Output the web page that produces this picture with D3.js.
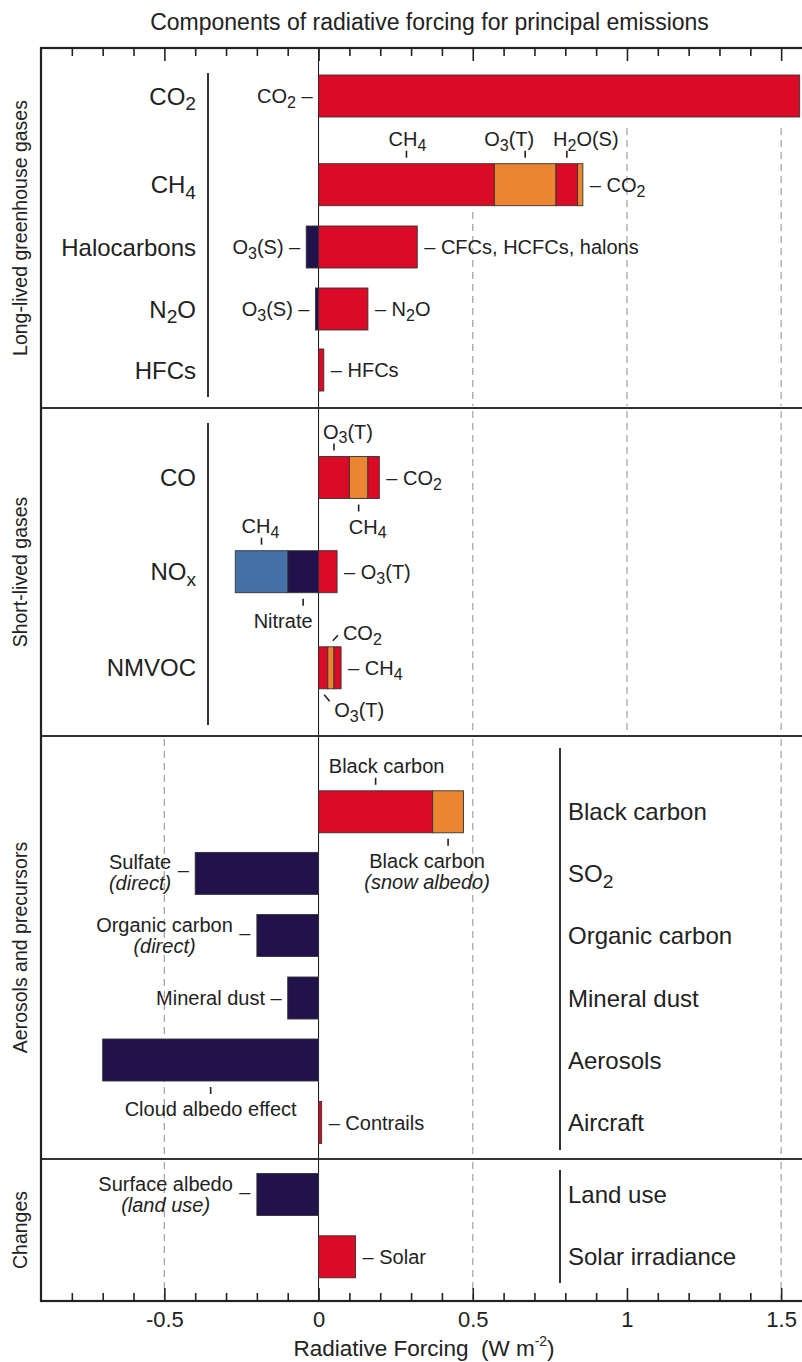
<!DOCTYPE html>
<html><head><meta charset="utf-8">
<script src="https://cdn.jsdelivr.net/npm/d3@7"></script>
<style>
body{margin:0;background:#fff}
svg{display:block;font-family:"Liberation Sans",Arial,Helvetica,sans-serif}
</style>
</head><body>
<svg id="chart" width="802" height="1362"></svg>
<script>
// ================= DATA =================
const title = "Components of radiative forcing for principal emissions";
const sections = ["Long-lived greenhouse gases","Short-lived gases","Aerosols and precursors","Changes"];
const emissions = ["CO2","CH4","Halocarbons","N2O","HFCs","CO","NOx","NMVOC",
  "Black carbon","SO2","Organic carbon","Mineral dust","Aerosols","Aircraft","Land use","Solar irradiance"];
const emissionSection = [0,0,0,0,0,1,1,1,2,2,2,2,2,2,3,3];
// components of each emission, listed from zero outward
const compEmission = ["CO2","CH4","CH4","CH4","CH4","Halocarbons","Halocarbons","N2O","N2O","HFCs",
  "CO","CO","CO","NOx","NOx","NOx","NMVOC","NMVOC","NMVOC",
  "Black carbon","Black carbon","SO2","Organic carbon","Mineral dust","Aerosols","Aircraft","Land use","Solar irradiance"];
const compName = ["CO2","CH4","O3(T)","H2O(S)","CO2","O3(S)","CFCs, HCFCs, halons","O3(S)","N2O","HFCs",
  "O3(T)","CH4","CO2","Nitrate","CH4","O3(T)","O3(T)","CO2","CH4",
  "Black carbon","Black carbon (snow albedo)","Sulfate (direct)","Organic carbon (direct)","Mineral dust",
  "Cloud albedo effect","Contrails","Surface albedo (land use)","Solar"];
const compValue = [1.56,0.57,0.20,0.07,0.017,-0.04,0.32,-0.01,0.16,0.017,
  0.10,0.06,0.037,-0.10,-0.17,0.06,0.03,0.02,0.023,
  0.37,0.10,-0.40,-0.20,-0.10,-0.70,0.01,-0.20,0.12];
// shade class: a = warming, b = warming (alternate), c = cooling, d = cooling (alternate)
const compShade = ["a","a","b","a","b","c","a","c","a","a",
  "a","b","a","c","d","a","a","b","a",
  "a","b","c","c","c","c","a","c","a"];
const xTickValues = [-0.5,0,0.5,1,1.5];
const xAxisTitle = ["Radiative Forcing\u00a0\u00a0(W m", "-2", ")"];

// ================= LAYOUT =================
const svg = d3.select("#chart");
const frame = {left:41, top:48, bottom:1301};
const x = d3.scaleLinear().domain([-0.9,1.6]).range([41, 41+2.5*308.4]);
const sectionBounds = [48,408,736,1159,1301];
const rowCenter = [96,184.7,247,309,370,477.5,571.7,667.8,811.8,873.4,935.5,998,1060,1122.5,1194.5,1256.8];
const y = d3.scaleOrdinal().domain(emissions).range(rowCenter);
const barH = 42;
const colour = d3.scaleOrdinal().domain(["a","b","c","d"]).range(["#DB0A26","#EC8532","#22124B","#4571A9"]);

// stack the components
const comps = compEmission.map((e,i)=>({i, e, name:compName[i], v:compValue[i], shade:compShade[i]}));
const posAcc = {}, negAcc = {};
comps.forEach(c=>{
  if (c.v >= 0){ const s = posAcc[c.e]||0; c.x0 = s; c.x1 = s + c.v; posAcc[c.e] = c.x1; }
  else { const s = negAcc[c.e]||0; c.x0 = s + c.v; c.x1 = s; negAcc[c.e] = c.x0; }
});

// rich text with chemical subscripts
function rich(sel, str){
  const segs = [];
  for (let k=0;k<str.length;k++){
    const ch = str[k], prev = str[k-1];
    let sub = /\d/.test(ch) && prev && /[A-Za-z]/.test(prev);
    if (ch==='x' && str.slice(k-2,k)==='NO') sub = true;
    const kind = sub ? 's' : 'n';
    if (segs.length && segs[segs.length-1].k===kind) segs[segs.length-1].t += ch;
    else segs.push({k:kind, t:ch});
  }
  let shifted = false;
  segs.forEach(s=>{
    const t = sel.append("tspan").text(s.t);
    if (s.k==='s'){ t.attr("font-size","0.8em").attr("dy","0.3em"); shifted = true; }
    else if (shifted){ t.attr("dy","-0.24em"); shifted = false; }
  });
  return sel;
}

// ---- dashed reference lines (behind everything) ----
const grid = [
  {v:0.5, y0:212, y1:406},{v:1, y0:128, y1:406},{v:1.5, y0:128, y1:406},
  {v:0.5, y0:411, y1:734},{v:1, y0:411, y1:734},{v:1.5, y0:411, y1:734},
  {v:-0.5, y0:739, y1:1157},{v:0.5, y0:739, y1:1157},{v:1.5, y0:739, y1:1157},
  {v:-0.5, y0:1162, y1:1299},{v:0.5, y0:1162, y1:1299},{v:1.5, y0:1162, y1:1299}
];
svg.append("g").selectAll("line").data(grid).join("line")
  .attr("x1",d=>x(d.v)).attr("x2",d=>x(d.v)).attr("y1",d=>d.y0).attr("y2",d=>d.y1)
  .attr("stroke","#a8a8a8").attr("stroke-width",1.3).attr("stroke-dasharray","7,5");

// ---- zero line ----
svg.append("line").attr("x1",x(0)).attr("x2",x(0)).attr("y1",frame.top).attr("y2",frame.bottom)
  .attr("stroke","#111").attr("stroke-width",1);

// ---- bars ----
svg.append("g").selectAll("rect").data(comps).join("rect")
  .attr("x",d=>x(d.x0)).attr("width",d=>Math.max(0,x(d.x1)-x(d.x0)))
  .attr("y",d=>y(d.e)-barH/2).attr("height",barH)
  .attr("fill",d=>colour(d.shade)).attr("stroke","#333").attr("stroke-width",0.9);

// ---- section dividers and frame ----
svg.append("g").selectAll("line").data(sectionBounds.slice(1,-1)).join("line")
  .attr("x1",frame.left).attr("x2",820).attr("y1",d=>d).attr("y2",d=>d)
  .attr("stroke","#333").attr("stroke-width",1.8);
svg.append("rect").attr("x",frame.left).attr("y",frame.top).attr("width",x(1.6)-frame.left+20)
  .attr("height",frame.bottom-frame.top).attr("fill","none").attr("stroke","#222").attr("stroke-width",2.2);

// ---- axes (ticks pointing inward) ----
const minor = d3.range(-8,17).map(k=>k/10).filter(v=>Math.abs(v*2-Math.round(v*2))>1e-6);
const bottomMinor = svg.append("g").attr("transform",`translate(0,${frame.bottom})`)
  .call(d3.axisBottom(x).tickValues(minor).tickSize(-8).tickSizeOuter(0).tickFormat(""));
const bottomMajor = svg.append("g").attr("transform",`translate(0,${frame.bottom})`)
  .call(d3.axisBottom(x).tickValues(xTickValues).tickSize(-13).tickSizeOuter(0).tickPadding(10)
    .tickFormat(d=>String(d)));
const topMinor = svg.append("g").attr("transform",`translate(0,${frame.top})`)
  .call(d3.axisTop(x).tickValues(minor).tickSize(-8).tickSizeOuter(0).tickFormat(""));
const topMajor = svg.append("g").attr("transform",`translate(0,${frame.top})`)
  .call(d3.axisTop(x).tickValues(xTickValues).tickSize(-13).tickSizeOuter(0).tickFormat(""));
[bottomMinor,bottomMajor,topMinor,topMajor].forEach(g=>{
  g.select(".domain").remove();
  g.selectAll(".tick line").attr("stroke","#222").attr("stroke-width",1.6);
});
bottomMajor.selectAll(".tick text").attr("font-size",22).attr("fill","#222")
  .attr("font-family","'Liberation Sans',Arial,sans-serif");

// ---- title & axis title ----
svg.append("text").attr("x",429.5).attr("y",30).attr("text-anchor","middle")
  .attr("font-size",23).attr("fill","#222").text(title);
const at = svg.append("text").attr("x",424).attr("y",1356).attr("text-anchor","middle")
  .attr("font-size",22.5).attr("fill","#222");
at.append("tspan").text(xAxisTitle[0]);
at.append("tspan").attr("font-size","0.62em").attr("dy","-0.75em").text(xAxisTitle[1]);
at.append("tspan").attr("dy","0.465em").text(xAxisTitle[2]);

// ---- section labels (rotated) ----
svg.append("g").selectAll("text").data(sections).join("text")
  .attr("transform",(d,i)=>`translate(27,${(sectionBounds[i]+sectionBounds[i+1])/2}) rotate(-90)`)
  .attr("text-anchor","middle").attr("font-size",19.5).attr("fill","#222").text(d=>d);

// ---- brackets ----
const brackets = [{x:208,y0:73,y1:397},{x:208,y0:423,y1:725},{x:560,y0:748,y1:1150},{x:560,y0:1170,y1:1283}];
svg.append("g").selectAll("line").data(brackets).join("line")
  .attr("x1",d=>d.x).attr("x2",d=>d.x).attr("y1",d=>d.y0).attr("y2",d=>d.y1)
  .attr("stroke","#333").attr("stroke-width",2);

// ---- emission labels ----
const lab = svg.append("g").attr("fill","#222");
emissions.forEach((e,i)=>{
  const left = emissionSection[i] < 2;
  const t = lab.append("text").attr("x", left ? 196 : 568).attr("y", y(e)).attr("dy","0.36em")
    .attr("text-anchor", left ? "end" : "start").attr("font-size",24);
  rich(t, e);
});

// ---- component annotations ----
const notes = [
  {i:0,at:"left"},{i:1,at:"above",dx:1},{i:2,at:"above",dx:-16},{i:3,at:"above",dx:19},{i:4,at:"right"},
  {i:5,at:"left"},{i:6,at:"right"},{i:7,at:"left"},{i:8,at:"right"},{i:9,at:"right"},
  {i:10,at:"above",dx:14},{i:11,at:"below",dx:9},{i:12,at:"right"},
  {i:13,at:"below",dx:-20},{i:14,at:"above",dx:-1},{i:15,at:"right"},
  {i:16,at:"diagBelow"},{i:17,at:"diagAbove"},{i:18,at:"right"},
  {i:19,at:"above",dx:11},{i:20,at:"below",dx:-21},
  {i:21,at:"left2"},{i:22,at:"left2"},{i:23,at:"left"},
  {i:24,at:"below",dx:0},{i:25,at:"right"},{i:26,at:"left2"},{i:27,at:"right"}
];
const ann = svg.append("g").attr("fill","#222").attr("font-size",20);
const tickStyle = s => s.attr("stroke","#222").attr("stroke-width",1.6);
function lines(name){ const k = name.indexOf(" ("); return k<0 ? [name] : [name.slice(0,k), name.slice(k+1)]; }
notes.forEach(n=>{
  const c = comps[n.i];
  const cy = y(c.e), top = cy-barH/2, bot = cy+barH/2;
  const cx = (x(c.x0)+x(c.x1))/2, L = x(c.x0), R = x(c.x1);
  const ls = lines(c.name);
  if (n.at==="left"){
    const t = ann.append("text").attr("x",L-6).attr("y",cy).attr("dy","0.36em").attr("text-anchor","end");
    rich(t, c.name + " \u2013");
  } else if (n.at==="right"){
    const t = ann.append("text").attr("x",R+7).attr("y",cy).attr("dy","0.36em");
    rich(t, "\u2013 " + c.name);
  } else if (n.at==="above"){
    tickStyle(ann.append("line").attr("x1",cx).attr("x2",cx).attr("y1",top-13).attr("y2",top-6));
    const t = ann.append("text").attr("x",cx+n.dx).attr("y",top-18).attr("text-anchor","middle");
    rich(t, c.name);
  } else if (n.at==="below"){
    tickStyle(ann.append("line").attr("x1",cx).attr("x2",cx).attr("y1",bot+6).attr("y2",bot+13));
    ls.forEach((s,j)=>{
      const t = ann.append("text").attr("x",cx+n.dx).attr("y",bot+35+j*21).attr("text-anchor","middle")
        .attr("font-style", j ? "italic" : null);
      rich(t, s);
    });
  } else if (n.at==="left2"){
    ann.append("text").attr("x",L-12).attr("y",cy).attr("dy","0.2em").attr("text-anchor","middle").text("\u2013");
    const ts = ls.map((s,j)=>ann.append("text").attr("y",cy-4+j*21).attr("text-anchor","middle")
      .attr("font-style", j ? "italic" : null).text(s));
    const w = d3.max(ts, t=>t.node().getComputedTextLength());
    ts.forEach(t=>t.attr("x", L-24-w/2));
  } else if (n.at==="diagAbove"){
    tickStyle(ann.append("line").attr("x1",cx+2).attr("y1",top-6).attr("x2",cx+7).attr("y2",top-11.5));
    rich(ann.append("text").attr("x",cx+12).attr("y",top-7), c.name);
  } else if (n.at==="diagBelow"){
    tickStyle(ann.append("line").attr("x1",cx+1).attr("y1",bot+6).attr("x2",cx+6.5).attr("y2",bot+12.5));
    rich(ann.append("text").attr("x",cx+11).attr("y",bot+28.5), c.name);
  }
});
</script>
</body></html>
